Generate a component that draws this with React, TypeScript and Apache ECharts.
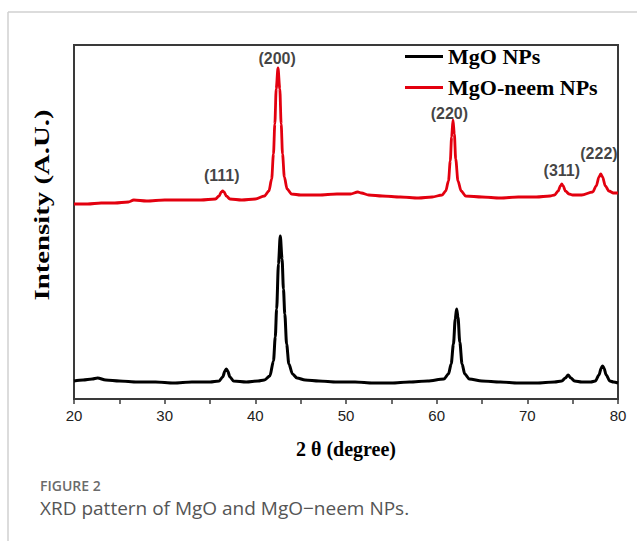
import React, { useEffect, useRef } from "react";
import * as echarts from "echarts";

// [2θ (degree), intensity (a.u.)]
const mgoPattern = [
  [20.0, 18], [21.0, 19], [22.0, 20], [22.6, 21], [23.5, 19], [25.0, 18], [27.0, 17], [29.0, 17],
  [31.0, 16], [33.0, 17], [35.0, 17], [36.0, 18], [36.4, 22], [36.65, 28], [36.8, 30], [36.95, 28],
  [37.2, 22], [37.6, 18], [39.0, 17], [40.3, 18], [41.0, 19], [41.6, 23], [42.0, 38], [42.2, 62],
  [42.35, 90], [42.55, 135], [42.75, 163], [42.95, 140], [43.1, 110], [43.25, 85], [43.45, 55],
  [43.7, 35], [44.1, 25], [44.6, 21], [45.5, 19], [47.0, 18], [49.0, 17], [51.0, 17], [53.0, 16],
  [55.0, 16], [57.0, 17], [59.0, 18], [60.8, 20], [61.3, 25], [61.6, 35], [61.85, 55], [62.05, 80],
  [62.2, 90], [62.35, 82], [62.55, 57], [62.8, 35], [63.1, 25], [63.6, 20], [65.0, 18], [67.0, 17],
  [69.0, 16], [71.0, 16], [73.0, 17], [73.8, 18], [74.2, 21], [74.5, 24], [74.8, 21], [75.2, 18],
  [76.0, 17], [77.0, 17], [77.5, 18], [77.9, 24], [78.15, 31], [78.3, 33], [78.45, 31], [78.7, 24],
  [79.1, 18], [79.5, 17], [80.0, 16],
];

const neemPattern = [
  [20.0, 195], [21.5, 195], [23.0, 196], [24.5, 196], [26.0, 197], [26.6, 199], [28.0, 198],
  [30.0, 199], [32.0, 199], [34.0, 199], [35.6, 200], [36.0, 203], [36.25, 207], [36.4, 208],
  [36.55, 207], [36.8, 203], [37.2, 200], [38.5, 199], [40.0, 200], [41.0, 203], [41.5, 208],
  [41.8, 220], [42.0, 245], [42.15, 275], [42.3, 310], [42.5, 331], [42.7, 310], [42.85, 275],
  [43.0, 245], [43.2, 222], [43.5, 210], [44.0, 205], [45.0, 204], [47.0, 204], [49.0, 205],
  [50.5, 205], [51.3, 207], [51.7, 206], [52.5, 204], [54.0, 203], [56.0, 202], [58.0, 201],
  [59.5, 202], [60.6, 204], [61.0, 208], [61.3, 218], [61.5, 238], [61.65, 262], [61.8, 279],
  [61.95, 265], [62.1, 240], [62.35, 218], [62.7, 208], [63.2, 203], [65.0, 202], [67.0, 201],
  [69.0, 202], [71.0, 202], [72.5, 203], [73.0, 204], [73.4, 208], [73.65, 213], [73.8, 215],
  [73.95, 213], [74.2, 208], [74.6, 205], [75.0, 204], [76.0, 204], [77.2, 207], [77.6, 213],
  [77.9, 222], [78.1, 225], [78.3, 222], [78.6, 213], [79.0, 208], [79.5, 206], [80.0, 206],
];

// peak (hkl) annotations
const peakTheta = [36.3, 42.4, 61.4, 73.8, 77.9];
const peakLabelY = [224, 341, 286, 229, 246];
const peakLabels = ["(111)", "(200)", "(220)", "(311)", "(222)"];

const seriesNames = ["MgO NPs", "MgO-neem NPs"];
const seriesColors = ["#000000", "#e3000f"];

const xMin = 20;
const xMax = 80;
const xInterval = 10;

export default function App() {
  const ref = useRef<HTMLDivElement>(null);
  useEffect(() => {
    if (!ref.current) return;
    const chart = echarts.init(ref.current, undefined, { renderer: "svg" });
    const peaks = peakTheta.map((t, i) => ({ value: [t, peakLabelY[i]], name: peakLabels[i] }));
    chart.setOption({
      animation: false,
      backgroundColor: "#ffffff",
      grid: {
        left: 74,
        top: 45,
        width: 544,
        height: 354,
        show: true,
        borderColor: "#3a3a3a",
        borderWidth: 2,
      },
      legend: {
        data: seriesNames,
        orient: "vertical",
        left: 405,
        top: 45,
        padding: 0,
        itemWidth: 38,
        itemHeight: 3,
        itemGap: 8,
        icon: "rect",
        textStyle: {
          fontFamily: "Liberation Serif",
          fontWeight: "bold",
          fontSize: 22,
          lineHeight: 23,
          color: "#000",
        },
      },
      xAxis: {
        type: "value",
        min: xMin,
        max: xMax,
        interval: xInterval,
        name: "2 θ (degree)",
        nameLocation: "middle",
        nameGap: 40,
        nameTextStyle: {
          fontFamily: "Liberation Serif",
          fontWeight: "bold",
          fontSize: 20,
          color: "#000",
        },
        axisLine: { show: true, lineStyle: { color: "#3a3a3a", width: 2 } },
        axisTick: { show: true, inside: false, length: 5, lineStyle: { color: "#3a3a3a", width: 1.5 } },
        minorTick: { show: true, splitNumber: 2, length: 5, lineStyle: { color: "#3a3a3a", width: 1.5 } },
        splitLine: { show: false },
        axisLabel: {
          fontFamily: "Liberation Sans",
          fontSize: 15,
          color: "#222",
          margin: 9,
        },
      },
      yAxis: {
        type: "value",
        min: 0,
        max: 354,
        axisLine: { show: true, lineStyle: { color: "#3a3a3a", width: 2 } },
        axisTick: { show: false },
        axisLabel: { show: false },
        splitLine: { show: false },
      },
      series: [
        {
          name: seriesNames[0],
          type: "line",
          data: mgoPattern,
          showSymbol: false,
          smooth: 0.3,
          smoothMonotone: "x",
          color: seriesColors[0],
          lineStyle: { color: seriesColors[0], width: 3 },
        },
        {
          name: seriesNames[1],
          type: "line",
          data: neemPattern,
          showSymbol: false,
          smooth: 0.3,
          smoothMonotone: "x",
          color: seriesColors[1],
          lineStyle: { color: seriesColors[1], width: 2.8 },
        },
        {
          name: "labels",
          type: "scatter",
          data: peaks,
          symbolSize: 0,
          silent: true,
          label: {
            show: true,
            position: "inside",
            formatter: "{b}",
            fontFamily: "Liberation Sans",
            fontWeight: "bold",
            fontSize: 16,
            color: "#111",
          },
        },
      ],
      graphic: [
        { type: "line", shape: { x1: 8, y1: 12, x2: 637, y2: 12 }, style: { stroke: "#d0d0d0", lineWidth: 1.5 } },
        { type: "line", shape: { x1: 8, y1: 12, x2: 8, y2: 541 }, style: { stroke: "#d0d0d0", lineWidth: 1.5 } },
        {
          type: "text",
          x: 42,
          y: 205,
          rotation: Math.PI / 2,
          scaleX: 1.37,
          style: {
            text: "Intensity (A.U.)",
            font: "bold 21px 'Liberation Serif'",
            fill: "#000",
            align: "center",
            verticalAlign: "middle",
          },
        },
        {
          type: "text",
          left: 40,
          top: 478,
          style: { text: "FIGURE 2", font: "600 14px 'Open Sans'", fill: "#6b6b6b" },
        },
        {
          type: "text",
          left: 40,
          top: 498,
          style: { text: "XRD pattern of MgO and MgO−neem NPs.", font: "19px 'Open Sans'", fill: "#555555" },
        },
      ],
    });
    return () => chart.dispose();
  }, []);
  return (
    <div
      ref={ref}
      style={{ position: "absolute", left: 0, top: 0, width: 637, height: 541 }}
    />
  );
}
